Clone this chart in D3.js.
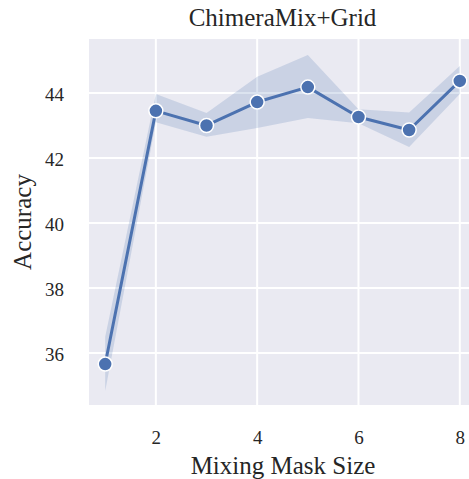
<!DOCTYPE html>
<html><head><meta charset="utf-8">
<script src="https://cdn.jsdelivr.net/npm/d3@7"></script>
<style>body{margin:0;background:#fff}svg{display:block}</style>
</head><body>
<svg id="c" width="469" height="479"></svg>
<script>
const maskSizes = [1, 2, 3, 4, 5, 6, 7, 8];
const accuracy = [35.66, 43.45, 43.0, 43.72, 44.18, 43.26, 42.86, 44.37];
const ciLower = [34.83, 43.1, 42.65, 42.92, 43.23, 43.07, 42.34, 43.97];
const ciUpper = [36.5, 43.97, 43.38, 44.5, 45.17, 43.5, 43.4, 44.83];
const xTicks = [2, 4, 6, 8];
const yTicks = [36, 38, 40, 42, 44];

const svg = d3.select("#c");
const L = 89, R = 476, T = 39, B = 405;
const x = d3.scaleLinear().domain([0.68, 8.32]).range([L, R]);
const y = d3.scaleLinear().domain([34.4, 45.66]).range([B, T]);
const font = "'Liberation Serif', 'DejaVu Serif', serif";

svg.append("rect").attr("x", L).attr("y", T).attr("width", R - L).attr("height", B - T).attr("fill", "#EAEAF2");

const g = svg.append("g");
g.selectAll(".gx").data(xTicks).enter().append("line")
  .attr("x1", d => x(d)).attr("x2", d => x(d)).attr("y1", T).attr("y2", B)
  .attr("stroke", "#fff").attr("stroke-width", 2);
g.selectAll(".gy").data(yTicks).enter().append("line")
  .attr("x1", L).attr("x2", R).attr("y1", d => y(d)).attr("y2", d => y(d))
  .attr("stroke", "#fff").attr("stroke-width", 2);

const data = maskSizes.map((m, i) => ({m, a: accuracy[i], lo: ciLower[i], hi: ciUpper[i]}));
svg.append("path").datum(data)
  .attr("d", d3.area().x(d => x(d.m)).y0(d => y(d.lo)).y1(d => y(d.hi)))
  .attr("fill", "#4C72B0").attr("fill-opacity", 0.2);
svg.append("path").datum(data)
  .attr("d", d3.line().x(d => x(d.m)).y(d => y(d.a)))
  .attr("fill", "none").attr("stroke", "#4C72B0").attr("stroke-width", 3).attr("stroke-linejoin", "round");
svg.selectAll(".pt").data(data).enter().append("circle")
  .attr("cx", d => x(d.m)).attr("cy", d => y(d.a)).attr("r", 7)
  .attr("fill", "#4C72B0").attr("stroke", "#fff").attr("stroke-width", 1.5);

const xa = svg.append("g").attr("transform", `translate(0,${B})`)
  .call(d3.axisBottom(x).tickValues(xTicks).tickSize(0).tickPadding(25.5).tickFormat(d3.format("d")));
xa.select(".domain").remove();
xa.selectAll("text").attr("font-family", font).attr("font-size", 19).attr("fill", "#262626");
const ya = svg.append("g").attr("transform", `translate(${L},0)`)
  .call(d3.axisLeft(y).tickValues(yTicks).tickSize(0).tickPadding(25).tickFormat(d3.format("d")));
ya.select(".domain").remove();
ya.selectAll("text").attr("font-family", font).attr("font-size", 19).attr("fill", "#262626").attr("dy", "0.4em");

svg.append("text").attr("x", 282.5).attr("y", 26).attr("text-anchor", "middle")
  .attr("font-family", font).attr("font-size", 25).attr("fill", "#262626").text("ChimeraMix+Grid");
svg.append("text").attr("x", 283).attr("y", 474).attr("text-anchor", "middle")
  .attr("font-family", font).attr("font-size", 25).attr("fill", "#262626").text("Mixing Mask Size");
svg.append("text").attr("transform", `translate(31,222) rotate(-90)`).attr("text-anchor", "middle")
  .attr("font-family", font).attr("font-size", 25).attr("fill", "#262626").text("Accuracy");
</script>
</body></html>
